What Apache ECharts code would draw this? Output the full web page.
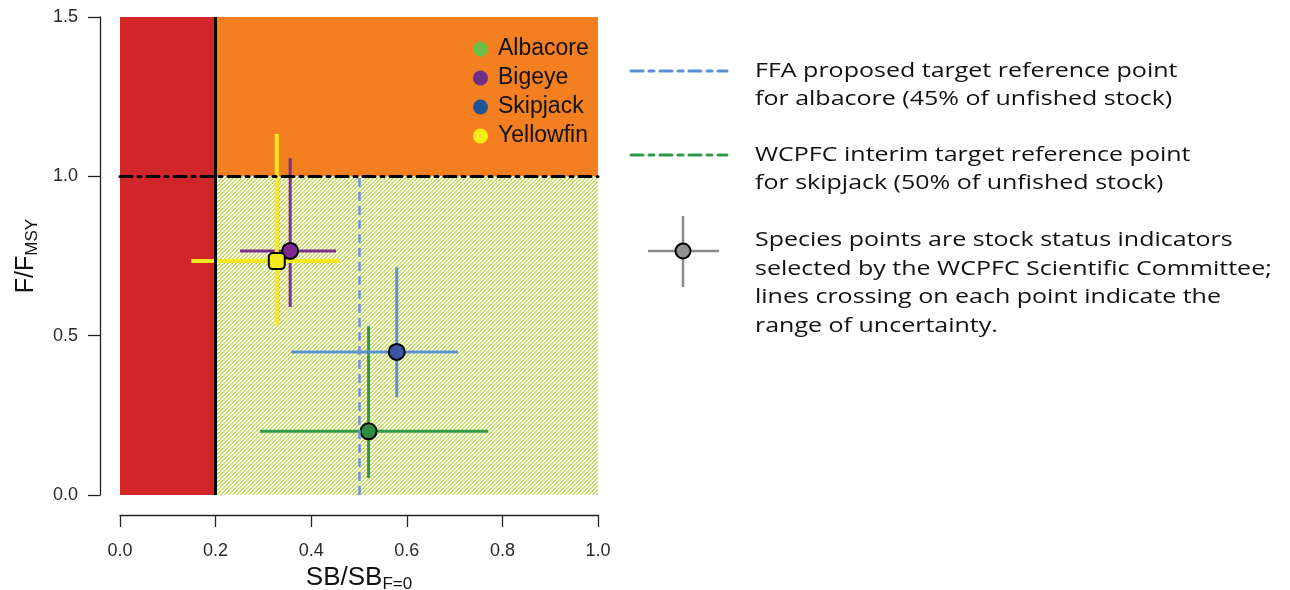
<!DOCTYPE html>
<html>
<head>
<meta charset="utf-8">
<script src="https://cdn.jsdelivr.net/npm/echarts@6/dist/echarts.min.js"></script>
<style>
  html, body { margin: 0; padding: 0; background: #fff; }
  #chart { width: 1290px; height: 590px; }
</style>
</head>
<body>
<div id="chart"></div>
<script>
// Stock status of the four tuna species (spawning biomass depletion vs fishing mortality)
const species = ['Albacore', 'Bigeye', 'Skipjack', 'Yellowfin'];
const sbRatio = [0.52, 0.356, 0.579, 0.328];
const fRatio = [0.20, 0.766, 0.449, 0.734];
const sbLow = [0.293, 0.251, 0.358, 0.149];
const sbHigh = [0.770, 0.452, 0.707, 0.460];
const fLow = [0.053, 0.59, 0.307, 0.533];
const fHigh = [0.53, 1.057, 0.715, 1.133];

// Axis ticks
const xTicks = [0.0, 0.2, 0.4, 0.6, 0.8, 1.0];
const yTicks = [0.0, 0.5, 1.0, 1.5];

// Reference points
const limitRefPoint = 0.2;   // SB/SB_F=0 limit
const fmsyLine = 1.0;        // F/F_MSY = 1
const albTargetRef = 0.5;    // target reference point line

// Status zones: [x0, y0, x1, y1]
const zoneRed = [0, 0, 0.2, 1.5];
const zoneOrange = [0.2, 1.0, 1.0, 1.5];
const zoneGreen = [0.2, 0, 1.0, 1.0];

// Key texts
const keyFfa = 'FFA proposed target reference point\nfor albacore (45% of unfished stock)';
const keyWcpfc = 'WCPFC interim target reference point\nfor skipjack (50% of unfished stock)';
const keyPoints = 'Species points are stock status indicators\nselected by the WCPFC Scientific Committee;\nlines crossing on each point indicate the\nrange of uncertainty.';

// Styles
const lineColors = ['#2f9b47', '#7d2f8f', '#5b8fd2', '#f4eb1f'];
const lineWidths = [3, 3, 3, 4];
const markerColors = ['#2b8c3f', '#7b2a8b', '#3b55a3', '#f4ea1a'];
const markerSymbols = ['circle', 'circle', 'circle', 'roundRect'];
const legendColors = ['#6abf45', '#6e2e8c', '#1f5598', '#f6ec18'];

// Diagonal hatch for the healthy zone (pixel-aligned so the colour stays crisp)
function makeHatch() {
  const n = 4;
  const c = document.createElement('canvas');
  c.width = n; c.height = n;
  const g = c.getContext('2d');
  g.fillStyle = '#ffffff';
  g.fillRect(0, 0, n, n);
  g.fillStyle = '#c8df66';
  for (let x = 0; x < n; x++) {
    for (let y = 0; y < n; y++) {
      if ((x + y) % n >= 2) g.fillRect(x, y, 1, 1);
    }
  }
  return c;
}
const hatch = { image: makeHatch(), repeat: 'repeat' };

const zones = [
  { box: zoneRed, fill: '#d0262a' },
  { box: zoneOrange, fill: '#f47f20' },
  { box: zoneGreen, fill: hatch }
];

const chart = echarts.init(document.getElementById('chart'), null, { renderer: 'canvas' });

const axisFont = { fontFamily: 'Liberation Sans', fontSize: 18, color: '#2a2a2a' };
const keyFont = '20px "Open Sans"';
const keyStretch = 1.25;

const option = {
  animation: false,
  backgroundColor: '#ffffff',
  grid: { left: 120, top: 17, width: 478, height: 478, outerBoundsMode: 'none', containLabel: false },
  xAxis: {
    type: 'value', min: 0, max: 1, interval: 0.2, offset: 20,
    axisLine: { show: true, onZero: false, lineStyle: { color: '#222', width: 1.3 } },
    axisTick: { show: true, length: 12, lineStyle: { color: '#222', width: 1.3 } },
    splitLine: { show: false },
    axisLabel: Object.assign({ margin: 27, formatter: v => v.toFixed(1) }, axisFont),
    name: '{a|SB/SB}{b|F=0}',
    nameLocation: 'middle', nameGap: 45,
    nameTextStyle: {
      rich: {
        a: { fontFamily: 'Liberation Sans', fontSize: 26, color: '#111' },
        b: { fontFamily: 'Liberation Sans', fontSize: 17, color: '#111', padding: [12, 0, 0, 0] }
      }
    }
  },
  yAxis: {
    type: 'value', min: 0, max: 1.5, interval: 0.5, offset: 20,
    axisLine: { show: true, onZero: false, lineStyle: { color: '#222', width: 1.3 } },
    axisTick: { show: true, length: 12, lineStyle: { color: '#222', width: 1.3 } },
    splitLine: { show: false },
    axisLabel: Object.assign({ margin: 22, formatter: v => v.toFixed(1) }, axisFont),
    name: '{a|F/F}{b|MSY}',
    nameLocation: 'middle', nameGap: 59, nameRotate: 90,
    nameTextStyle: {
      rich: {
        a: { fontFamily: 'Liberation Sans', fontSize: 25, color: '#111' },
        b: { fontFamily: 'Liberation Sans', fontSize: 17, color: '#111', padding: [12, 0, 0, 0] }
      }
    }
  },
  legend: {
    orient: 'vertical', left: 468, top: 32,
    itemWidth: 15, itemHeight: 15, itemGap: 5, icon: 'circle',
    textStyle: { fontFamily: 'Liberation Sans', fontSize: 23, color: '#111', lineHeight: 24, padding: [0, 0, 0, 5] },
    selectedMode: false,
    data: species.map((s, i) => ({ name: s, itemStyle: { color: legendColors[i], borderWidth: 0 } }))
  },
  graphic: [
    // FFA target reference line key
    { type: 'line', shape: { x1: 631, y1: 71, x2: 727, y2: 71 },
      style: { stroke: '#5b8fd4', lineWidth: 3, lineDash: [12, 6, 5, 6], lineCap: 'round' } },
    { type: 'text', x: 755, y: 57, scaleX: keyStretch,
      style: { text: keyFfa, font: keyFont, fill: '#111', lineHeight: 28, verticalAlign: 'top' } },
    // WCPFC target reference line key
    { type: 'line', shape: { x1: 631, y1: 155, x2: 727, y2: 155 },
      style: { stroke: '#2e9a48', lineWidth: 3, lineDash: [12, 6, 5, 6], lineCap: 'round' } },
    { type: 'text', x: 755, y: 141, scaleX: keyStretch,
      style: { text: keyWcpfc, font: keyFont, fill: '#111', lineHeight: 28, verticalAlign: 'top' } },
    // Species point key
    { type: 'line', shape: { x1: 683, y1: 216, x2: 683, y2: 287 }, style: { stroke: '#8a8a8a', lineWidth: 2.5 } },
    { type: 'line', shape: { x1: 648, y1: 251, x2: 719, y2: 251 }, style: { stroke: '#8a8a8a', lineWidth: 2.5 } },
    { type: 'circle', shape: { cx: 683, cy: 251, r: 7.5 }, style: { fill: '#8f8f8f', stroke: '#000', lineWidth: 2 } },
    { type: 'text', x: 755, y: 226, scaleX: keyStretch,
      style: { text: keyPoints, font: keyFont, fill: '#111', lineHeight: 28.7, verticalAlign: 'top' } }
  ],
  series: [
    {
      // status zones
      type: 'custom', silent: true, z: 1,
      data: zones.map((z, i) => [i]),
      renderItem: function (params, api) {
        const z = zones[api.value(0)];
        const p0 = api.coord([z.box[0], z.box[3]]);
        const p1 = api.coord([z.box[2], z.box[1]]);
        return { type: 'rect', shape: { x: p0[0], y: p0[1], width: p1[0] - p0[0], height: p1[1] - p0[1] },
                 style: { fill: z.fill } };
      }
    },
    {
      // reference lines
      type: 'line', data: [], silent: true, z: 2,
      markLine: {
        symbol: 'none', silent: true, label: { show: false }, animation: false,
        data: [
          [{ coord: [albTargetRef, 0] }, { coord: [albTargetRef, fmsyLine] }],
          [{ coord: [limitRefPoint, 0] }, { coord: [limitRefPoint, 1.5] }],
          [{ coord: [0, fmsyLine] }, { coord: [1, fmsyLine] }]
        ].map((d, i) => {
          const styles = [
            { color: '#6b93d6', width: 2.5, type: [9, 5] },
            { color: '#000', width: 3, type: 'solid' },
            { color: '#000', width: 3, type: [12, 6, 3, 6], cap: 'round' }
          ];
          d[0].lineStyle = styles[i];
          return d;
        })
      }
    },
    {
      // uncertainty ranges
      type: 'custom', silent: true, z: 3,
      data: species.map((s, i) => [sbRatio[i], fRatio[i], sbLow[i], sbHigh[i], fLow[i], fHigh[i], i]),
      renderItem: function (params, api) {
        const i = api.value(6);
        const h0 = api.coord([api.value(2), api.value(1)]);
        const h1 = api.coord([api.value(3), api.value(1)]);
        const v0 = api.coord([api.value(0), api.value(4)]);
        const v1 = api.coord([api.value(0), api.value(5)]);
        const st = { stroke: lineColors[i], lineWidth: lineWidths[i] };
        return { type: 'group', children: [
          { type: 'line', shape: { x1: h0[0], y1: h0[1], x2: h1[0], y2: h1[1] }, style: st },
          { type: 'line', shape: { x1: v0[0], y1: v0[1], x2: v1[0], y2: v1[1] }, style: st }
        ] };
      }
    }
  ].concat(species.map((s, i) => ({
    name: s, type: 'scatter', z: 4 + i,
    symbol: markerSymbols[i], symbolSize: 16,
    itemStyle: { color: markerColors[i], borderColor: '#000', borderWidth: 2, opacity: 1 },
    data: [[sbRatio[i], fRatio[i]]]
  })))
};

chart.setOption(option);
</script>
</body>
</html>
